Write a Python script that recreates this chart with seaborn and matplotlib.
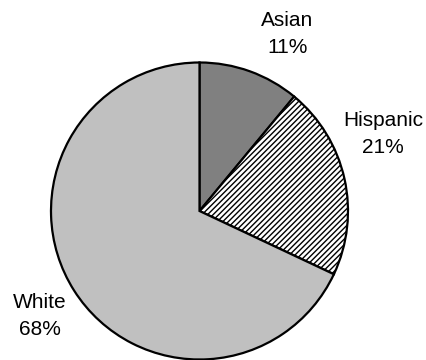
import matplotlib
matplotlib.use("Agg")
import matplotlib.pyplot as plt
import seaborn as sns

# data
groups = ["Asian", "Hispanic", "White"]
shares = [11, 21, 68]
slice_colors = ["#808080", "#ffffff", "#c0c0c0"]
slice_hatch = ["", "//////", ""]

sns.set_theme(style="white")
plt.rcParams['font.family'] = ['Liberation Sans', 'DejaVu Sans']
plt.rcParams['hatch.linewidth'] = 1.0
plt.rcParams['hatch.color'] = '#333333'

fig = plt.figure(figsize=(4.27, 3.6), dpi=100)
ax = fig.add_axes([0, 0, 1, 1])

wedges, _ = ax.pie(shares, colors=slice_colors, startangle=90, counterclock=False,
                   center=(199.5, 149), radius=148.5,
                   wedgeprops=dict(edgecolor="black", linewidth=1.6))
for w, h in zip(wedges, slice_hatch):
    w.set_hatch(h)

ax.set_xlim(0, 427)
ax.set_ylim(0, 360)
ax.set_aspect("equal")
ax.axis("off")

# label spots in pixels (x, y from bottom)
label_xy = [(287.5, 326), (383, 226), (40, 44)]
for g, s, (x, y) in zip(groups, shares, label_xy):
    ax.text(x, y, f"{g}\n{s}%", ha="center", va="center", fontsize=15,
            linespacing=1.5, color="black")

fig.savefig("out.png", dpi=100)
